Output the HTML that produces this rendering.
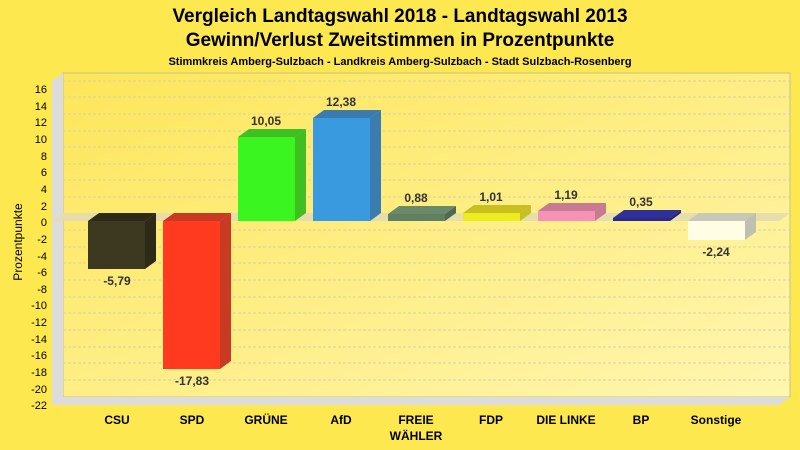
<!DOCTYPE html>
<html><head><meta charset="utf-8"><style>body{margin:0}svg{display:block}text{font-family:"Liberation Sans",sans-serif}</style></head><body>
<svg width="800" height="450" xmlns="http://www.w3.org/2000/svg">
<defs><linearGradient id="pg" x1="0" y1="0" x2="1" y2="1"><stop offset="0" stop-color="#fde659"/><stop offset="1" stop-color="#fff6b0"/></linearGradient></defs>
<rect width="800" height="450" fill="#fde84f"/>
<text x="400" y="22" font-size="19" font-weight="bold" text-anchor="middle" fill="#000">Vergleich Landtagswahl 2018 - Landtagswahl 2013</text>
<text x="400" y="46" font-size="19" font-weight="bold" text-anchor="middle" fill="#000">Gewinn/Verlust Zweitstimmen in Prozentpunkte</text>
<text x="400" y="65" font-size="11" font-weight="bold" text-anchor="middle" fill="#000">Stimmkreis Amberg-Sulzbach - Landkreis Amberg-Sulzbach - Stadt Sulzbach-Rosenberg</text>
<rect x="63" y="73" width="727" height="324" fill="url(#pg)" stroke="#c8c090" stroke-width="1"/>
<polygon points="52,81 63,73 63,397 52,405" fill="#dcdcdc"/>
<polygon points="52,405 63,397 790,397 779,405" fill="#dcdcdc"/>
<g stroke="#d8d0a8" stroke-dasharray="3,2" stroke-width="1">
<line x1="63" y1="81" x2="790" y2="81"/><line x1="63" y1="97" x2="790" y2="97"/><line x1="63" y1="114" x2="790" y2="114"/><line x1="63" y1="131" x2="790" y2="131"/><line x1="63" y1="147" x2="790" y2="147"/><line x1="63" y1="164" x2="790" y2="164"/><line x1="63" y1="180" x2="790" y2="180"/><line x1="63" y1="197" x2="790" y2="197"/><line x1="63" y1="230" x2="790" y2="230"/><line x1="63" y1="247" x2="790" y2="247"/><line x1="63" y1="263" x2="790" y2="263"/><line x1="63" y1="280" x2="790" y2="280"/><line x1="63" y1="297" x2="790" y2="297"/><line x1="63" y1="313" x2="790" y2="313"/><line x1="63" y1="330" x2="790" y2="330"/><line x1="63" y1="347" x2="790" y2="347"/><line x1="63" y1="363" x2="790" y2="363"/><line x1="63" y1="380" x2="790" y2="380"/>
</g>
<polygon points="52,221 63,213 790,213 779,221" fill="#e4dcb0" opacity="0.9"/>
<g font-size="11" text-anchor="end" fill="#000">
<text x="47" y="93">16</text><text x="47" y="110">14</text><text x="47" y="126">12</text><text x="47" y="143">10</text><text x="47" y="160">8</text><text x="47" y="176">6</text><text x="47" y="193">4</text><text x="47" y="210">2</text><text x="47" y="226">0</text><text x="47" y="243">-2</text><text x="47" y="260">-4</text><text x="47" y="276">-6</text><text x="47" y="293">-8</text><text x="47" y="309">-10</text><text x="47" y="326">-12</text><text x="47" y="343">-14</text><text x="47" y="359">-16</text><text x="47" y="376">-18</text><text x="47" y="393">-20</text><text x="47" y="409">-22</text>
</g>
<text transform="translate(22,242) rotate(-90)" font-size="12" text-anchor="middle" fill="#000">Prozentpunkte</text>
<g id="bars">
<!-- CSU -5.79 bottom 269 -->
<rect x="88" y="221" width="57" height="48" fill="#3d3820"/><polygon points="88,221 99,213 156,213 145,221" fill="#2e2a18"/><polygon points="145,221 156,213 156,261 145,269" fill="#2e2a18"/>
<!-- SPD -17.83 bottom 369 -->
<rect x="163" y="221" width="57" height="148" fill="#ff3a1e"/><polygon points="163,221 174,213 231,213 220,221" fill="#c83a22"/><polygon points="220,221 231,213 231,361 220,369" fill="#c83a22"/>
<!-- GRUENE 10.05 top 137 -->
<rect x="238" y="137" width="57" height="84" fill="#3af520"/><polygon points="238,137 249,129 306,129 295,137" fill="#40c020"/><polygon points="295,137 306,129 306,213 295,221" fill="#40c020"/>
<!-- AfD 12.38 top 118 -->
<rect x="313" y="118" width="57" height="103" fill="#3a9ae0"/><polygon points="313,118 324,110 381,110 370,118" fill="#3a7cb0"/><polygon points="370,118 381,110 381,213 370,221" fill="#3a7cb0"/>
<!-- FREIE 0.88 top 214 -->
<rect x="388" y="214" width="57" height="7" fill="#5f8062"/><polygon points="388,214 399,206 456,206 445,214" fill="#6a8a6a"/><polygon points="445,214 456,206 456,213 445,221" fill="#4e6a50"/>
<!-- FDP 1.01 top 213 -->
<rect x="463" y="213" width="57" height="8" fill="#ecec20"/><polygon points="463,213 474,205 531,205 520,213" fill="#c8c020"/><polygon points="520,213 531,205 531,213 520,221" fill="#c8c020"/>
<!-- LINKE 1.19 top 211 -->
<rect x="538" y="211" width="57" height="10" fill="#f492b8"/><polygon points="538,211 549,203 606,203 595,211" fill="#c87a90"/><polygon points="595,211 606,203 606,213 595,221" fill="#c87a90"/>
<!-- BP 0.35 top 218 -->
<rect x="613" y="218" width="57" height="3" fill="#2a2a8a"/><polygon points="613,218 624,210 681,210 670,218" fill="#30309a"/><polygon points="670,218 681,210 681,213 670,221" fill="#22227a"/>
<!-- Sonstige -2.24 bottom 240 -->
<rect x="688" y="221" width="57" height="19" fill="#fffde4"/><polygon points="688,221 699,213 756,213 745,221" fill="#c8c8b8"/><polygon points="745,221 756,213 756,232 745,240" fill="#c0c0b0"/>
</g>
<g font-size="12" font-weight="bold" text-anchor="middle" fill="#333">
<text x="117" y="285">-5,79</text><text x="192" y="385">-17,83</text><text x="266" y="125">10,05</text><text x="341" y="106">12,38</text><text x="416" y="202">0,88</text><text x="491" y="201">1,01</text><text x="566" y="199">1,19</text><text x="641" y="206">0,35</text><text x="716" y="256">-2,24</text>
</g>
<g font-size="12" font-weight="bold" text-anchor="middle" fill="#000">
<text x="117" y="424">CSU</text><text x="192" y="424">SPD</text><text x="266" y="424">GRÜNE</text><text x="341" y="424">AfD</text><text x="416" y="424">FREIE</text><text x="416" y="440">WÄHLER</text><text x="491" y="424">FDP</text><text x="566" y="424">DIE LINKE</text><text x="641" y="424">BP</text><text x="716" y="424">Sonstige</text>
</g>
</svg>
</body></html>
